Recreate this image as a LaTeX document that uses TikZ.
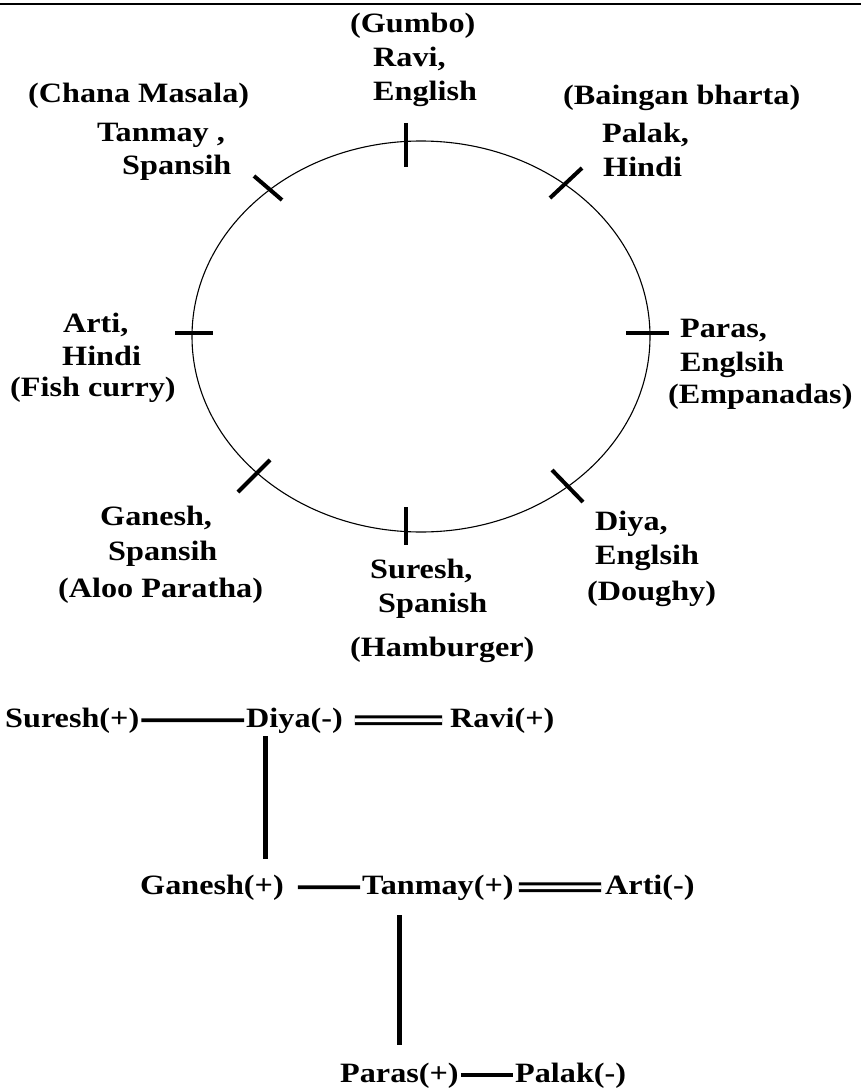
\documentclass[tikz,border=0pt]{standalone}
\usepackage{fontspec}
\setmainfont{Liberation Serif}[FakeStretch=1.15]
\usetikzlibrary{positioning}

\begin{document}
\begin{tikzpicture}[x=1pt,y=-1pt]
  \tikzstyle{lbl}=[font=\fontsize{28}{34}\selectfont\bfseries, inner sep=0pt, anchor=base west]
  \tikzstyle{rel}=[font=\fontsize{28}{34}\selectfont\bfseries, inner xsep=2pt, inner ysep=1pt, anchor=base west]
  \tikzstyle{notch}=[line width=4pt]
  \tikzstyle{link}=[line width=3.7pt]
  \tikzstyle{dlink}=[double, double distance=3.8pt, line width=3pt]

  \useasboundingbox (0,0) rectangle (861,1091);
  \draw[line width=2pt] (0,4) -- (861,4);

  % the round table and the seat marks
  \draw[line width=1.1pt] (421,336.5) ellipse [x radius=229, y radius=195.5];
  \foreach \xa/\ya/\xb/\yb in {406/123/406/167, 406/507/406/545,
      175/333/213/333, 626/333/669/333, 254/176/282/200,
      550/198/582/168, 238/492/270/460, 552/470/583/502}
    \draw[notch] (\xa,\ya) -- (\xb,\yb);

  % seats
  \node[lbl] (gumbo)     at (350,33)  {(Gumbo)};
  \node[lbl] (ravi1)     at (373,67)  {Ravi,};
  \node[lbl] (ravi2)     at (373,101) {English};
  \node[lbl] (chana)     at (28,103)  {(Chana Masala)};
  \node[lbl] (tanmay1)   at (97,142)  {Tanmay ,};
  \node[lbl] (tanmay2)   at (122,175) {Spansih};
  \node[lbl] (baingan)   at (563,105) {(Baingan bharta)};
  \node[lbl] (palak1)    at (602,143) {Palak,};
  \node[lbl] (palak2)    at (603,177) {Hindi};
  \node[lbl] (arti1)     at (63,332)  {Arti,};
  \node[lbl] (arti2)     at (62,365)  {Hindi};
  \node[lbl] (fish)      at (10,396)  {(Fish curry)};
  \node[lbl] (paras1)    at (680,337) {Paras,};
  \node[lbl] (paras2)    at (680,371) {Englsih};
  \node[lbl] (empanadas) at (668,403) {(Empanadas)};
  \node[lbl] (ganesh1)   at (100,525) {Ganesh,};
  \node[lbl] (ganesh2)   at (108,560) {Spansih};
  \node[lbl] (aloo)      at (58,597)  {(Aloo Paratha)};
  \node[lbl] (suresh1)   at (370,578) {Suresh,};
  \node[lbl] (suresh2)   at (378,612) {Spanish};
  \node[lbl] (hamburger) at (350,656) {(Hamburger)};
  \node[lbl] (diya1)     at (595,530) {Diya,};
  \node[lbl] (diya2)     at (595,564) {Englsih};
  \node[lbl] (doughy)    at (587,600) {(Doughy)};

  % relations
  \node[rel] (suresh) at (3,727)    {Suresh(+)};
  \node[rel] (diya)   at (244,727)  {Diya(-)};
  \node[rel] (ravi)   at (448,727)  {Ravi(+)};
  \node[rel] (ganesh) at (138,894)  {Ganesh(+)};
  \node[rel] (tanmay) at (360,894)  {Tanmay(+)};
  \node[rel] (arti)   at (603,894)  {Arti(-)};
  \node[rel] (paras)  at (338,1082) {Paras(+)};
  \node[rel] (palak)  at (513,1082) {Palak(-)};

  \coordinate (d1) at ([xshift=21pt]diya.south west);

  \draw[link] (suresh) -- (diya);
  \draw[dlink, shorten <=10pt, shorten >=6pt] (diya) -- (ravi);
  \draw[link, line width=5pt, shorten <=2pt, shorten >=14pt] (d1) -- (d1 |- ganesh.north);
  \draw[link, shorten <=12pt] (ganesh) -- (tanmay);
  \draw[dlink, shorten <=3pt, shorten >=2pt] (tanmay) -- (arti);
  \draw[link, line width=5pt, shorten <=14pt, shorten >=16pt] (paras.north |- tanmay.south) -- (paras.north);
  \draw[link] (paras) -- (palak);
\end{tikzpicture}
\end{document}
